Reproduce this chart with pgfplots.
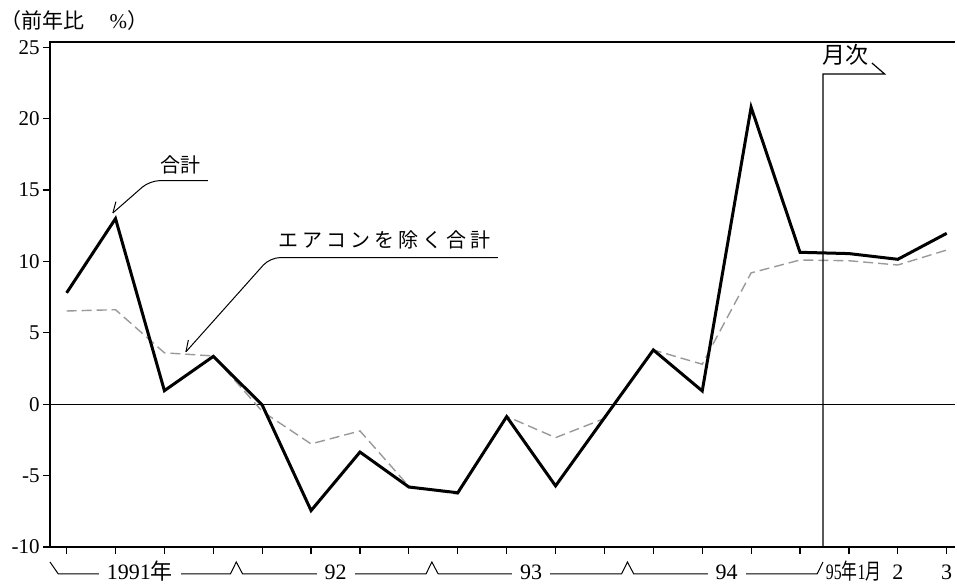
\documentclass[border=0pt]{standalone}
\usepackage{fontspec}
\setmainfont{Liberation Serif}
\newfontfamily\cjk{Noto Sans CJK JP}
\newfontfamily\cjksp[LetterSpace=20]{Noto Sans CJK JP}
\usepackage{pgfplots}
\pgfplotsset{compat=1.18}

\pgfplotstableread{
x y
0 7.8
1 13.0
2 0.95
3 3.35
4 -0.05
5 -7.45
6 -3.35
7 -5.8
8 -6.2
9 -0.87
10 -5.72
11 -0.95
12 3.8
13 0.93
14 20.8
15 10.64
16 10.55
17 10.15
18 11.97
}\total

\pgfplotstableread{
x y
0 6.53
1 6.62
2 3.6
3 3.38
4 -0.5
5 -2.78
6 -1.87
7 -5.75
8 -6.3
9 -0.85
10 -2.34
11 -1.0
12 3.8
13 2.8
14 9.2
15 10.1
16 10.05
17 9.75
18 10.8
}\noac

\begin{document}
\begin{tikzpicture}
\useasboundingbox (-25pt,-18pt) rectangle (453.5pt,273.5pt);
\begin{axis}[
  at={(0,0)}, anchor=south west,
  scale only axis, width=452.5pt, height=252.5pt,
  xmin=-0.34, xmax=18.17, ymin=-10, ymax=25.37,
  axis line style={draw=none},
  xtick={0,...,18}, xticklabel={\empty},
  ytick={-10,-5,0,5,10,15,20,25},
  yticklabels={-10,-5,0,5,10,15,20,25},
  tick align=outside, tick pos=left,
  major tick length=3.5pt,
  tick style={black, line width=0.6pt},
  yticklabel style={font=\fontsize{10.5}{12}\selectfont, inner sep=1.5pt},
  clip=false,
]
% frame
\draw[line width=1.4pt] (rel axis cs:1,1) -- (rel axis cs:0,1) -- (rel axis cs:0,0) -- (rel axis cs:1,0);
% zero line
\draw[line width=0.6pt] (axis cs:-0.34,0) -- (axis cs:18.17,0);

\addplot[gray!80, line width=0.7pt, dash pattern=on 5pt off 2.5pt] table[x=x,y=y] {\noac};
\addplot[black, line width=1.5pt] table[x=x,y=y] {\total};

% monthly separator
\draw[line width=0.6pt] (axis cs:15.47,-10) -- (axis cs:15.47,23.13) -- (axis cs:16.73,23.13) -- (axis cs:16.47,23.9);
\node[font=\cjk\fontsize{11.5}{12}\selectfont] at (axis cs:15.92,24.45) {月次};

% annotation 合計
\draw[line width=0.5pt, rounded corners=5pt] (axis cs:0.947,13.40) -- (axis cs:1.70,15.66) -- (axis cs:2.89,15.66);
\draw[line width=0.5pt] (axis cs:0.947,13.40) -- (axis cs:1.008,14.19);
\node[font=\cjk\fontsize{10}{12}\selectfont] at (axis cs:2.32,16.75) {合計};

% annotation エアコンを除く合計
\draw[line width=0.5pt, rounded corners=5pt] (axis cs:2.44,3.67) -- (axis cs:4.16,10.27) -- (axis cs:8.82,10.27);
\draw[line width=0.5pt] (axis cs:2.44,3.67) -- (axis cs:2.49,4.5);
\node[font=\cjksp\fontsize{10}{12}\selectfont] at (axis cs:6.51,11.5) {エアコンを除く合計};

% y unit label
\node[anchor=west, inner sep=0pt, font=\fontsize{10.5}{12}\selectfont] at (axis cs:-1.364,26.9) {{\cjk （前年比}\hspace{1.2em}\%{\cjk ）}};

% bottom period brackets
\draw[line width=0.5pt] (axis cs:-0.34,-11.05) -- (axis cs:-0.17,-11.89) -- (axis cs:3.35,-11.89) -- (axis cs:3.47,-11.05) -- (axis cs:3.60,-11.89)
  -- (axis cs:7.35,-11.89) -- (axis cs:7.47,-11.05) -- (axis cs:7.60,-11.89)
  -- (axis cs:11.35,-11.89) -- (axis cs:11.47,-11.05) -- (axis cs:11.60,-11.89)
  -- (axis cs:15.35,-11.89) -- (axis cs:15.47,-11.05);
\tikzset{yl/.style={anchor=base, fill=white, inner xsep=4pt, inner ysep=0pt, font=\fontsize{11}{12}\selectfont}}
\node[yl] at (axis cs:1.5,-12.28) {1991{\cjk 年}};
\node[yl] at (axis cs:5.5,-12.28) {92};
\node[yl] at (axis cs:9.5,-12.28) {93};
\node[yl] at (axis cs:13.5,-12.28) {94};
\node[anchor=base west, inner sep=0pt, font=\fontsize{11}{12}\selectfont] at (axis cs:15.52,-12.28) {\scalebox{0.72}[1]{95{\cjk 年}1{\cjk 月}}};
\node[anchor=base, inner sep=0pt, font=\fontsize{11}{12}\selectfont] at (axis cs:17,-12.28) {2};
\node[anchor=base, inner sep=0pt, font=\fontsize{11}{12}\selectfont] at (axis cs:18,-12.28) {3};
\end{axis}
\end{tikzpicture}
\end{document}
